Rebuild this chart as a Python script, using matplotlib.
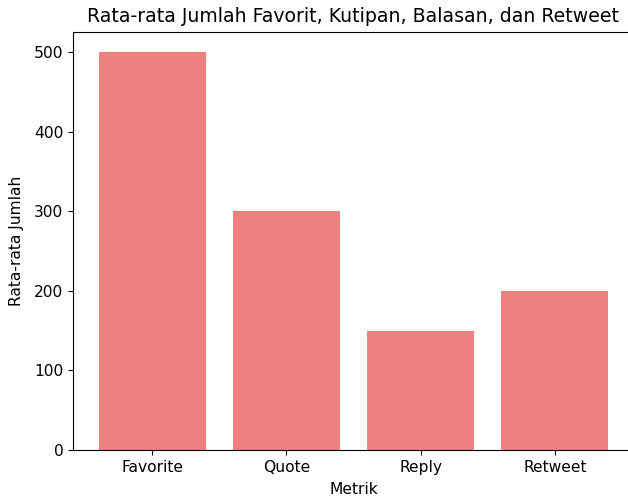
import matplotlib
matplotlib.use("Agg")
import matplotlib.pyplot as plt

categories = ["Favorite", "Quote", "Reply", "Retweet"]
values = [500, 300, 150, 200]

fig = plt.figure(figsize=(6.28, 4.99), dpi=100)
left, right, top, bottom = 73, 634, 32, 450
ax = fig.add_axes([left/628, 1-bottom/499, (right-left)/628, (bottom-top)/499])
ax.bar(categories, values, color="lightcoral")
ax.set_title("Rata-rata Jumlah Favorit, Kutipan, Balasan, dan Retweet", fontsize=13.6, pad=7)
ax.set_xlabel("Metrik", fontsize=11.2, labelpad=5.5)
ax.set_ylabel("Rata-rata Jumlah", fontsize=11.2, labelpad=7)
ax.tick_params(labelsize=11.2)
fig.savefig("out.png", dpi=100)
